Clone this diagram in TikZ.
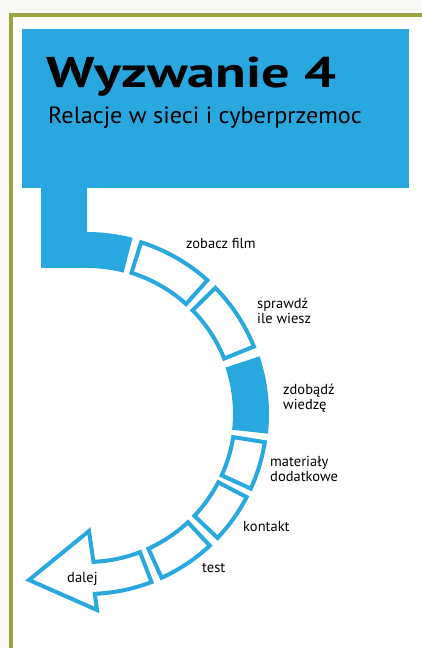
\documentclass[tikz,border=0pt]{standalone}
\usepackage{fontspec}
\setmainfont{PT Sans}
\usetikzlibrary{calc}
\definecolor{skyblue}{RGB}{41,168,224}
\definecolor{olive2}{RGB}{156,163,64}
\definecolor{paper}{RGB}{248,248,244}
\tikzset{
  segfill/.style={fill=skyblue},
  segopen/.style={draw=skyblue, line width=4, fill=white, line join=miter},
  steplabel/.style={anchor=base west, align=left, inner sep=0, font=\fontsize{14.5}{15}\selectfont}
}

\begin{document}
\begin{tikzpicture}[x=1pt,y=1pt]
    \useasboundingbox (0,0) rectangle (422,648);
    \fill[paper] (0,0) rectangle (422,648);
    \fill[white] (11,0) rectangle (422,633);
    \draw[olive2, line width=4] (10.7,0) -- (10.7,633) -- (422,633);

    % header
    \fill[skyblue] (22,460) rectangle (409,619);
    \path (46,560) node[anchor=base west, inner sep=0, font=\bfseries\fontsize{43}{43}\selectfont] (title) {\scalebox{1.31}[1]{Wyzwanie 4}};
    \path (48,524) node[anchor=base west, inner sep=0, font=\fontsize{23.5}{23.5}\selectfont] (subtitle) {\scalebox{1.03}[1]{Relacje w sieci i cyberprzemoc}};

    % ring
    \coordinate (c) at (87,234);
    \fill[segfill] (41,461) -- (41,380) -- (87,380) arc[start angle=90, end angle=75.5, radius=146] -- ($(c)+(75.5:182)$) arc[start angle=75.5, end angle=90, radius=182] -- (87,461) -- cycle;
    \fill[segfill] ($(c)+(18.5:182)$) arc[start angle=18.5, end angle=-6.2, radius=182] -- ($(c)+(-6.2:146)$) arc[start angle=-6.2, end angle=18.5, radius=146] -- cycle;
    \foreach \a/\b in {72.5/48, 44.5/22, -9/-24.5, -27.5/-43.5, -47/-65.5}
        \draw[segopen] ($(c)+(\a:180)$) arc[start angle=\a, end angle=\b, radius=180] -- ($(c)+(\b:148)$) arc[start angle=\b, end angle=\a, radius=148] -- cycle;
    \draw[segopen] ($(c)+(-69:180)$) arc[start angle=-69, end angle=-87.5, radius=180] -- (97,38) -- (29,68) -- (89,117) -- ($(c)+(-87.5:148)$) arc[start angle=-87.5, end angle=-69, radius=148] -- cycle;

    % labels
    \path (186,399) node[steplabel] (film) {zobacz film};
    \path (257,324) node[steplabel] (quiz) {sprawdź\\ile wiesz};
    \path (283,238) node[steplabel] (wiedza) {zdobądź\\wiedzę};
    \path (270,166) node[steplabel] (materialy) {materiały\\dodatkowe};
    \path (243,116) node[steplabel] (kontakt) {kontakt};
    \path (202,75) node[steplabel] (test) {test};
    \path (67,65) node[steplabel] (dalej) {dalej};
\end{tikzpicture}
\end{document}
